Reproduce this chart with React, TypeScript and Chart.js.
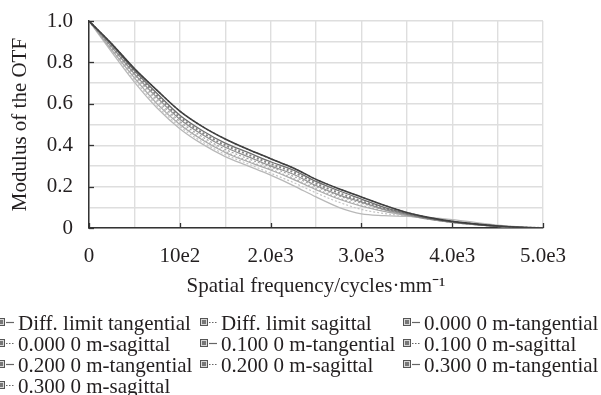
import React, { useEffect, useRef } from 'react';
import { Chart, registerables } from 'chart.js';

Chart.register(...registerables);

// ---- data ----
const frequencies = [0, 250, 500, 750, 1000, 1250, 1500, 1750, 2000, 2250, 2500, 2750, 3000, 3250, 3500, 3750, 4000, 4250, 4500, 4750, 5000];

const diffLimitTangential = [1.0, 0.89, 0.77, 0.665, 0.565, 0.49, 0.43, 0.38, 0.335, 0.29, 0.235, 0.19, 0.15, 0.11, 0.075, 0.05, 0.032, 0.02, 0.01, 0.003, 0];
const diffLimitSagittal = [1.0, 0.89, 0.77, 0.665, 0.565, 0.49, 0.43, 0.38, 0.335, 0.29, 0.235, 0.19, 0.15, 0.11, 0.075, 0.05, 0.032, 0.02, 0.01, 0.003, 0];
const field0000Tangential = [1.0, 0.885, 0.76, 0.65, 0.545, 0.47, 0.41, 0.365, 0.32, 0.28, 0.225, 0.18, 0.14, 0.1, 0.07, 0.047, 0.03, 0.018, 0.009, 0.003, 0];
const field0000Sagittal = [1.0, 0.88, 0.755, 0.64, 0.535, 0.46, 0.4, 0.355, 0.31, 0.27, 0.215, 0.17, 0.13, 0.095, 0.068, 0.045, 0.029, 0.018, 0.009, 0.003, 0];
const field0100Tangential = [1.0, 0.875, 0.745, 0.63, 0.525, 0.45, 0.39, 0.345, 0.3, 0.26, 0.205, 0.16, 0.125, 0.09, 0.065, 0.044, 0.028, 0.017, 0.008, 0.003, 0];
const field0100Sagittal = [1.0, 0.87, 0.74, 0.62, 0.515, 0.44, 0.38, 0.335, 0.295, 0.25, 0.2, 0.155, 0.12, 0.088, 0.063, 0.043, 0.028, 0.017, 0.008, 0.003, 0];
const field0200Tangential = [1.0, 0.86, 0.725, 0.6, 0.5, 0.425, 0.365, 0.32, 0.28, 0.235, 0.185, 0.14, 0.105, 0.08, 0.06, 0.042, 0.027, 0.016, 0.008, 0.003, 0];
const field0200Sagittal = [1.0, 0.865, 0.73, 0.61, 0.505, 0.43, 0.37, 0.325, 0.285, 0.24, 0.19, 0.145, 0.11, 0.082, 0.06, 0.042, 0.027, 0.016, 0.008, 0.003, 0];
const field0300Tangential = [1.0, 0.85, 0.705, 0.58, 0.48, 0.405, 0.345, 0.3, 0.255, 0.205, 0.15, 0.1, 0.068, 0.06, 0.056, 0.05, 0.04, 0.027, 0.014, 0.005, 0];
const field0300Sagittal = [1.0, 0.855, 0.715, 0.59, 0.49, 0.415, 0.355, 0.31, 0.265, 0.22, 0.17, 0.125, 0.09, 0.07, 0.058, 0.045, 0.03, 0.018, 0.009, 0.003, 0];

const seriesLabels = [
  'Diff. limit tangential',
  'Diff. limit sagittal',
  '0.000 0 m-tangential',
  '0.000 0 m-sagittal',
  '0.100 0 m-tangential',
  '0.100 0 m-sagittal',
  '0.200 0 m-tangential',
  '0.200 0 m-sagittal',
  '0.300 0 m-tangential',
  '0.300 0 m-sagittal',
];
const seriesValues = [
  diffLimitTangential, diffLimitSagittal,
  field0000Tangential, field0000Sagittal,
  field0100Tangential, field0100Sagittal,
  field0200Tangential, field0200Sagittal,
  field0300Tangential, field0300Sagittal,
];

const xTickValues = [0, 1000, 2000, 3000, 4000, 5000];
const xTickLabels = ['0', '10e2', '2.0e3', '3.0e3', '4.0e3', '5.0e3'];
const yTickValues = [0, 0.2, 0.4, 0.6, 0.8, 1.0];
const yTickLabels = ['0', '0.2', '0.4', '0.6', '0.8', '1.0'];

const xTitle = 'Spatial frequency/cycles\u00b7mm\u207b\u00b9';
const yTitle = 'Modulus of the OTF';

// ---- styles ----
const FONT = '"Liberation Serif", "Times New Roman", serif';
const seriesColors = ['#3f3f3f', '#555555', '#6f6f6f', '#858585', '#8f8f8f', '#a0a0a0', '#a8a8a8', '#b4b4b4', '#b8b8b8', '#c4c4c4'];
const seriesWidths = [1.6, 1.2, 1.3, 2.0, 1.2, 1.2, 1.2, 1.2, 1.3, 1.2];

const legendColX = [-3, 200, 403];
const legendRowBaseline = [330, 351, 372, 393];

const findNearest = (arr: number[], v: number) => arr.findIndex((a) => Math.abs(a - v) < 1e-6);

export default function App() {
  const ref = useRef<HTMLCanvasElement | null>(null);

  useEffect(() => {
    if (!ref.current) return;

    const datasets = seriesLabels.map((label, i) => ({
      label,
      data: frequencies.map((f, j) => ({ x: f, y: seriesValues[i][j] })),
      borderColor: seriesColors[i],
      backgroundColor: seriesColors[i],
      borderWidth: seriesWidths[i],
      borderDash: i % 2 === 1 ? [2, 2] : [],
      pointRadius: 0,
      fill: false,
      cubicInterpolationMode: 'monotone' as const,
    }));

    const decor = {
      id: 'decor',
      afterDraw(chart: any) {
        const { ctx, chartArea, scales } = chart;
        const xs = scales.x;
        const ys = scales.y;
        ctx.save();
        // inward tick marks
        ctx.strokeStyle = '#333';
        ctx.lineWidth = 1.3;
        xTickValues.forEach((v) => {
          const px = Math.round(xs.getPixelForValue(v)) + 0.5;
          ctx.beginPath();
          ctx.moveTo(px, chartArea.bottom);
          ctx.lineTo(px, chartArea.bottom - 5);
          ctx.stroke();
        });
        yTickValues.forEach((v) => {
          const py = Math.round(ys.getPixelForValue(v)) + 0.5;
          ctx.beginPath();
          ctx.moveTo(chartArea.left, py);
          ctx.lineTo(chartArea.left + 5, py);
          ctx.stroke();
        });
        // legend
        ctx.font = `21px ${FONT}`;
        ctx.textBaseline = 'alphabetic';
        ctx.textAlign = 'left';
        chart.data.datasets.forEach((ds: any, i: number) => {
          const col = i % 3;
          const row = Math.floor(i / 3);
          const x0 = legendColX[col];
          const base = legendRowBaseline[row];
          const cy = base - 8;
          // marker square
          ctx.setLineDash([]);
          ctx.fillStyle = '#d8d8d8';
          ctx.fillRect(x0, cy - 4, 8, 8);
          ctx.strokeStyle = '#555';
          ctx.lineWidth = 1;
          ctx.strokeRect(x0 + 0.5, cy - 3.5, 7, 7);
          ctx.fillStyle = '#777';
          ctx.fillRect(x0 + 2, cy - 2, 4, 4);
          // line segment
          ctx.strokeStyle = '#666';
          ctx.lineWidth = 1.2;
          ctx.setLineDash(i % 2 === 1 ? [1.5, 1.5] : []);
          ctx.beginPath();
          ctx.moveTo(x0 + 9, cy + 0.5);
          ctx.lineTo(x0 + 17, cy + 0.5);
          ctx.stroke();
          ctx.setLineDash([]);
          ctx.fillStyle = '#231f20';
          ctx.fillText(ds.label, x0 + 21, base);
        });
        ctx.restore();
      },
    };

    const chart = new Chart(ref.current, {
      type: 'line',
      data: { datasets },
      options: {
        animation: false,
        responsive: false,
        maintainAspectRatio: false,
        layout: { padding: { top: 21, right: 58, left: 0, bottom: 0 } },
        plugins: { legend: { display: false }, tooltip: { enabled: false } },
        scales: {
          x: {
            type: 'linear',
            min: 0,
            max: 5000,
            afterFit: (s: any) => { s.height = 167; s.paddingLeft = 0; s.paddingRight = 0; },
            grid: { color: '#dedede', lineWidth: 1.4, drawTicks: false },
            border: { display: true, color: '#333', width: 1.5 },
            ticks: {
              stepSize: 500,
              autoSkip: false,
              maxRotation: 0,
              padding: 16,
              color: '#231f20',
              font: { family: FONT, size: 21 },
              callback: (v: any) => {
                const k = findNearest(xTickValues, Number(v));
                return k >= 0 ? xTickLabels[k] : '';
              },
            },
            title: {
              display: true,
              text: xTitle,
              color: '#231f20',
              font: { family: FONT, size: 21 },
              padding: { top: 0, bottom: 96 },
            },
          },
          y: {
            type: 'linear',
            min: 0,
            max: 1,
            afterFit: (s: any) => { s.width = 89; s.paddingTop = 0; s.paddingBottom = 0; },
            grid: { color: '#dedede', lineWidth: 1.4, drawTicks: false },
            border: { display: true, color: '#333', width: 1.5 },
            ticks: {
              stepSize: 0.1,
              autoSkip: false,
              padding: 16,
              color: '#231f20',
              font: { family: FONT, size: 21 },
              callback: (v: any) => {
                const k = findNearest(yTickValues, Number(v));
                return k >= 0 ? yTickLabels[k] : '';
              },
            },
            title: {
              display: true,
              text: yTitle,
              color: '#231f20',
              font: { family: FONT, size: 21 },
              padding: { top: 8, bottom: 0 },
            },
          },
        },
      },
      plugins: [decor],
    });

    return () => chart.destroy();
  }, []);

  return (
    <div style={{ position: 'absolute', left: 0, top: 0, width: 601, height: 395, background: '#fff' }}>
      <canvas ref={ref} width={601} height={395} style={{ width: 601, height: 395, display: 'block' }} />
    </div>
  );
}
